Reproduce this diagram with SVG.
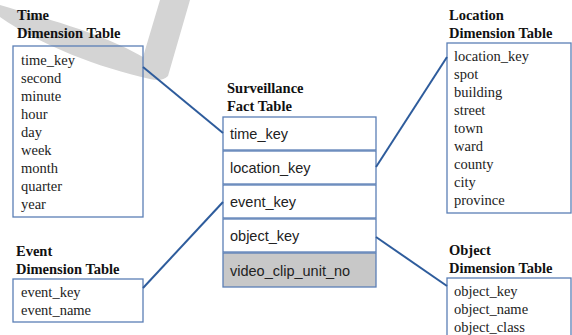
<svg xmlns="http://www.w3.org/2000/svg" width="572" height="335" viewBox="0 0 572 335">
<style>
.title{font-family:"Liberation Serif",serif;font-weight:bold;font-size:14.5px;fill:#111}
.item{font-family:"Liberation Serif",serif;font-size:14.5px;fill:#222}
.field{font-family:"Liberation Sans",Arial,sans-serif;font-size:14.5px;fill:#222}
.box{fill:none;stroke:#5b7fb6;stroke-width:1.3}
.row{fill:#fff;stroke:#5b7fb6;stroke-width:1.3}
.conn{stroke:#2e5c9c;stroke-width:2;fill:none}
</style>
<rect width="572" height="335" fill="#fff"/>
<path d="M0,5 C40,17 100,32 143,57 L160,0 L190,0 L168,76 Q162,82 150,79 C100,68 40,45 0,17 Z" fill="#d4d4d4"/>
<g id="time-dim">
<text class="title" x="17" y="20">Time</text>
<text class="title" x="17" y="38">Dimension Table</text>
<rect class="box" x="13" y="46" width="130" height="171"/>
<text class="item" x="21" y="65">time_key</text>
<text class="item" x="21" y="83">second</text>
<text class="item" x="21" y="101">minute</text>
<text class="item" x="21" y="119">hour</text>
<text class="item" x="21" y="137">day</text>
<text class="item" x="21" y="155">week</text>
<text class="item" x="21" y="173">month</text>
<text class="item" x="21" y="191">quarter</text>
<text class="item" x="21" y="209">year</text>
</g>
<g id="location-dim">
<text class="title" x="449" y="20">Location</text>
<text class="title" x="449" y="38">Dimension Table</text>
<rect class="box" x="447" y="43" width="124" height="170"/>
<text class="item" x="454" y="61">location_key</text>
<text class="item" x="454" y="79">spot</text>
<text class="item" x="454" y="97">building</text>
<text class="item" x="454" y="115">street</text>
<text class="item" x="454" y="133">town</text>
<text class="item" x="454" y="151">ward</text>
<text class="item" x="454" y="169">county</text>
<text class="item" x="454" y="187">city</text>
<text class="item" x="454" y="205">province</text>
</g>
<g id="event-dim">
<text class="title" x="16" y="256">Event</text>
<text class="title" x="16" y="274">Dimension Table</text>
<rect class="box" x="13" y="279" width="130" height="43"/>
<text class="item" x="21" y="297">event_key</text>
<text class="item" x="21" y="315">event_name</text>
</g>
<g id="object-dim">
<text class="title" x="449" y="255">Object</text>
<text class="title" x="449" y="273">Dimension Table</text>
<rect class="box" x="447" y="278" width="124" height="70"/>
<text class="item" x="454" y="296">object_key</text>
<text class="item" x="454" y="314">object_name</text>
<text class="item" x="454" y="332">object_class</text>
</g>
<g id="fact-table">
<text class="title" x="227" y="93">Surveillance</text>
<text class="title" x="227" y="111">Fact Table</text>
<rect class="row" x="223" y="117" width="153" height="33"/>
<rect class="row" x="223" y="151" width="153" height="33"/>
<rect class="row" x="223" y="185" width="153" height="33"/>
<rect class="row" x="223" y="219" width="153" height="33"/>
<rect class="row" x="223" y="253" width="153" height="34" style="fill:#c8c8c8"/>
<text class="field" x="230" y="139">time_key</text>
<text class="field" x="230" y="173">location_key</text>
<text class="field" x="230" y="207">event_key</text>
<text class="field" x="230" y="241">object_key</text>
<text class="field" x="230" y="276">video_clip_unit_no</text>
</g>
<g id="connectors">
<line class="conn" x1="143" y1="67" x2="223" y2="133"/>
<line class="conn" x1="376" y1="167" x2="447" y2="57"/>
<line class="conn" x1="143" y1="288" x2="223" y2="202"/>
<line class="conn" x1="376" y1="237" x2="447" y2="286"/>
</g>
</svg>
